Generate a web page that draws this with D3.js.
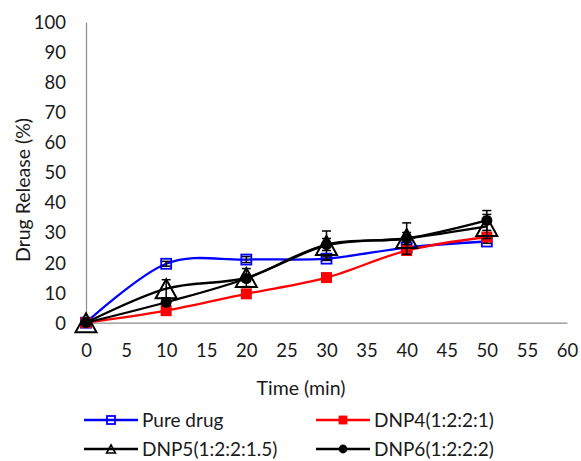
<!DOCTYPE html>
<html>
<head>
<meta charset="utf-8">
<script src="https://cdn.jsdelivr.net/npm/d3@7"></script>
<style>
  body { margin: 0; background: #fff; }
  svg { font-family: Lato, "Open Sans", sans-serif; }
</style>
</head>
<body>
<svg id="chart" width="581" height="461"></svg>
<script>
// time points (min)
const times = [0, 10, 20, 30, 40, 50];
const seriesNames = ["Pure drug", "DNP4(1:2:2:1)", "DNP5(1:2:2:1.5)", "DNP6(1:2:2:2)"];
// drug release (%)
const pureDrug = [0, 19.6, 21, 21.3, 25, 27];
const dnp4 = [0, 4, 9.6, 15, 24, 28.5];
const dnp5 = [0, 11.3, 15, 25.7, 28, 32];
const dnp6 = [0, 6.8, 14.7, 26, 28, 34];
// error bar half-lengths
const pureErr = [0, 0.8, 1, 0.6, 0.6, 0.6];
const dnp4Err = [0, 0.5, 0.5, 0.5, 0.5, 0.6];
const dnp5Err = [0, 3, 3, 4.8, 5.2, 4];
const dnp6Err = [0, 1, 1, 2, 2, 3.3];
const xTicks = d3.range(0, 61, 5);
const yTicks = d3.range(0, 101, 10);

const svg = d3.select("#chart");
const x = d3.scaleLinear().domain([0, 60]).range([86, 567]);
const y = d3.scaleLinear().domain([0, 100]).range([322.7, 22]);

const series = [
    {name: seriesNames[0], vals: pureDrug, err: pureErr, color: "#0000ff", marker: "openSquare"},
    {name: seriesNames[1], vals: dnp4, err: dnp4Err, color: "#ff0000", marker: "square"},
    {name: seriesNames[2], vals: dnp5, err: dnp5Err, color: "#000000", marker: "triangle"},
    {name: seriesNames[3], vals: dnp6, err: dnp6Err, color: "#000000", marker: "circle"}
];

// axes
const axisColor = "#8c8c8c";
const yAxis = svg.append("g").attr("transform", `translate(${x(0)},0)`)
    .call(d3.axisLeft(y).tickValues(yTicks).tickSize(0).tickPadding(20));
const xAxis = svg.append("g").attr("transform", `translate(0,${y(0)})`)
    .call(d3.axisBottom(x).tickValues(xTicks).tickSize(0).tickPadding(19));
[xAxis, yAxis].forEach(a => {
    a.select(".domain").attr("stroke", axisColor).attr("stroke-width", 1.2);
    a.selectAll("text").attr("font-size", 18.5).attr("fill", "#1a1a1a")
        .attr("font-family", "Lato, sans-serif");
});
yAxis.selectAll("text").attr("dy", "0.35em");
xAxis.selectAll("text").attr("dy", "0.35em").attr("y", 28);

svg.append("text").attr("x", 301).attr("y", 388).attr("dy", "0.35em")
    .attr("text-anchor", "middle").attr("font-size", 19.5).attr("fill", "#1a1a1a")
    .text("Time (min)");
svg.append("text").attr("transform", "translate(23,190) rotate(-90)").attr("dy", "0.35em")
    .attr("text-anchor", "middle").attr("font-size", 19.5).attr("fill", "#1a1a1a")
    .text("Drug Release (%)");

function drawMarker(g, type, color, cx, cy, scale, sw) {
    const s = scale || 1;
    if (type === "openSquare") {
        g.append("rect").attr("x", cx - 5 * s).attr("y", cy - 5 * s)
            .attr("width", 10 * s).attr("height", 10 * s)
            .attr("fill", "none").attr("stroke", color).attr("stroke-width", 1.8);
    } else if (type === "square") {
        g.append("rect").attr("x", cx - 5.5 * s).attr("y", cy - 5.5 * s)
            .attr("width", 11 * s).attr("height", 11 * s).attr("fill", color);
    } else if (type === "triangle") {
        const w = 10.5 * s, h = 9.5 * s;
        g.append("path").attr("d", `M${cx},${cy - h}L${cx + w},${cy + h}L${cx - w},${cy + h}Z`)
            .attr("fill", "none").attr("stroke", color).attr("stroke-width", sw || 2);
    } else if (type === "circle") {
        g.append("circle").attr("cx", cx).attr("cy", cy).attr("r", 5.5 * s).attr("fill", color);
    }
}

const line = d3.line().x((d, i) => x(times[i])).y(d => y(d)).curve(d3.curveCardinal.tension(0));

series.forEach(s => {
    const g = svg.append("g");
    g.append("path").datum(s.vals).attr("d", line)
        .attr("fill", "none").attr("stroke", s.color).attr("stroke-width", 2.3);
    // error bars
    s.vals.forEach((v, i) => {
        if (!s.err[i]) return;
        const cx = x(times[i]);
        const y1 = y(v + s.err[i]), y2 = y(v - s.err[i]);
        g.append("line").attr("x1", cx).attr("x2", cx).attr("y1", y1).attr("y2", y2)
            .attr("stroke", "#000").attr("stroke-width", 1.5);
        [y1, y2].forEach(yy => g.append("line").attr("x1", cx - 4.5).attr("x2", cx + 4.5)
            .attr("y1", yy).attr("y2", yy).attr("stroke", "#000").attr("stroke-width", 1.5));
    });
    s.vals.forEach((v, i) => drawMarker(g, s.marker, s.color, x(times[i]), y(v)));
});

// legend
const legendPos = [[84, 420], [316, 420], [84, 449], [316, 449]];
series.forEach((s, i) => {
    const [lx, ly] = legendPos[i];
    const g = svg.append("g");
    g.append("line").attr("x1", lx).attr("x2", lx + 54).attr("y1", ly).attr("y2", ly)
        .attr("stroke", s.color).attr("stroke-width", 2.3);
    drawMarker(g, s.marker, s.color, lx + 27, ly, s.marker === "triangle" ? 0.42 : 0.8, 1.6);
    g.append("text").attr("x", lx + 58).attr("y", ly).attr("dy", "0.35em")
        .attr("font-size", 19).attr("fill", "#1a1a1a").text(s.name);
});
</script>
</body>
</html>
